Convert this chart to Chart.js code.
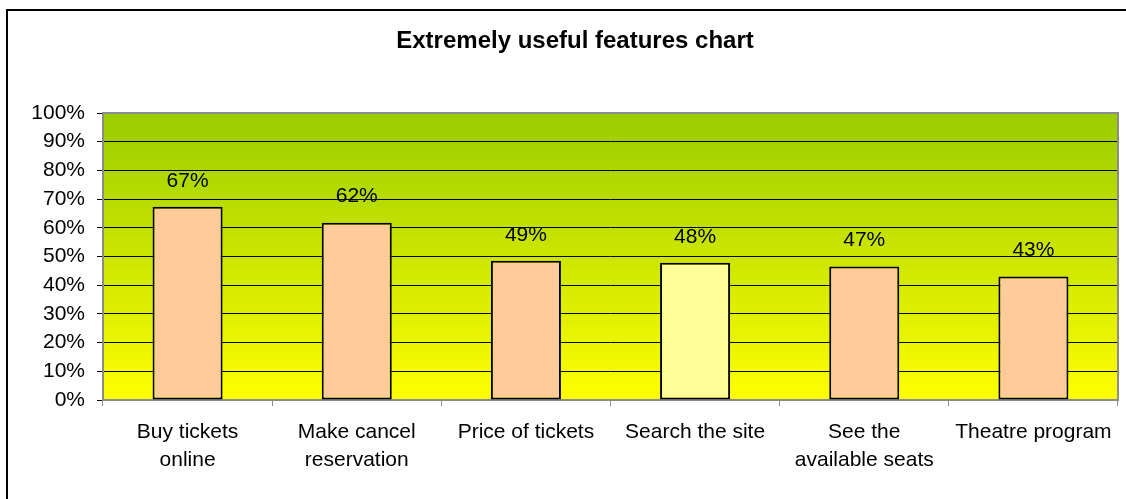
<!DOCTYPE html>
<html>
<head>
<meta charset="utf-8">
<script src="https://cdn.jsdelivr.net/npm/chart.js@4"></script>
<style>
  html, body { margin: 0; padding: 0; background: #fff; overflow: hidden; }
  #marco { position: absolute; left: 6px; top: 9px; width: 1150px; height: 520px; border: 2px solid #000; }
  #wrap { position: absolute; left: 8px; top: 11px; }
</style>
</head>
<body>
<div id="marco"></div>
<div id="wrap"><canvas id="grafico" width="1132" height="488"></canvas></div>
<script>
// datos
const categorias = [
    ['Buy tickets', 'online'],
    ['Make cancel', 'reservation'],
    'Price of tickets',
    'Search the site',
    ['See the', 'available seats'],
    'Theatre program'
];
const valores = [67.3, 61.8, 48.5, 47.8, 46.5, 43];
const etiquetas = ['67%', '62%', '49%', '48%', '47%', '43%'];
const coloresBarras = ['#FFCC99', '#FFCC99', '#FFCC99', '#FFFF99', '#FFCC99', '#FFCC99'];

const fuente = '"Liberation Sans", Arial, sans-serif';

// fondo degradado y marco del area de trazado
const fondoPlugin = {
    id: 'fondo',
    beforeDraw(chart) {
        const { ctx, chartArea } = chart;
        const g = ctx.createLinearGradient(0, chartArea.top, 0, chartArea.bottom);
        g.addColorStop(0, '#99CC00');
        g.addColorStop(1, '#FFFF00');
        ctx.save();
        ctx.fillStyle = g;
        ctx.fillRect(chartArea.left, chartArea.top, chartArea.right - chartArea.left, chartArea.bottom - chartArea.top);
        ctx.restore();
    },
    beforeDatasetsDraw(chart) {
        const { ctx, chartArea } = chart;
        ctx.save();
        ctx.strokeStyle = '#8c8c8c';
        ctx.lineWidth = 2;
        ctx.strokeRect(chartArea.left, chartArea.top, chartArea.right - chartArea.left, chartArea.bottom - chartArea.top);
        ctx.restore();
    }
};

// etiquetas encima de cada barra
const etiquetasPlugin = {
    id: 'etiquetas',
    afterDatasetsDraw(chart) {
        const ctx = chart.ctx;
        const meta = chart.getDatasetMeta(0);
        ctx.save();
        ctx.font = '21px ' + fuente;
        ctx.fillStyle = '#000';
        ctx.textAlign = 'center';
        ctx.textBaseline = 'middle';
        meta.data.forEach((barra, i) => {
            ctx.fillText(etiquetas[i], barra.x, barra.y - 26);
        });
        ctx.restore();
    }
};

const ctx = document.getElementById('grafico').getContext('2d');
new Chart(ctx, {
    type: 'bar',
    data: {
        labels: categorias,
        datasets: [{
            data: valores,
            backgroundColor: coloresBarras,
            borderColor: '#000',
            borderWidth: 2,
            borderSkipped: false,
            barPercentage: 0.414,
            categoryPercentage: 1
        }]
    },
    options: {
        responsive: false,
        animation: false,
        layout: { padding: { left: 24, right: 22, top: 0, bottom: 0 } },
        plugins: {
            legend: { display: false },
            tooltip: { enabled: false },
            title: {
                display: true,
                text: 'Extremely useful features chart',
                color: '#000',
                font: { family: fuente, size: 24, weight: 'bold', lineHeight: 1.2 },
                padding: { top: 15.6, bottom: 57.6 }
            }
        },
        scales: {
            x: {
                afterFit: scale => { scale.height = 99; },
                border: { display: false },
                grid: {
                    drawOnChartArea: false,
                    drawTicks: true,
                    tickLength: 6,
                    tickColor: '#8c8c8c',
                    color: '#8c8c8c'
                },
                ticks: {
                    color: '#000',
                    padding: 12,
                    maxRotation: 0,
                    autoSkip: false,
                    font: { family: fuente, size: 21, lineHeight: 1.35 }
                }
            },
            y: {
                min: 0,
                max: 100,
                afterFit: scale => { scale.width = 71; },
                border: { display: false },
                grid: {
                    color: ctx => (ctx.tick && (ctx.tick.value === 0 || ctx.tick.value === 100)) ? 'rgba(0,0,0,0)' : '#000',
                    tickColor: '#000',
                    tickLength: 6,
                    lineWidth: 1
                },
                ticks: {
                    stepSize: 10,
                    color: '#000',
                    padding: 12,
                    font: { family: fuente, size: 21 },
                    callback: v => v + '%'
                }
            }
        }
    },
    plugins: [fondoPlugin, etiquetasPlugin]
});
</script>
</body>
</html>
